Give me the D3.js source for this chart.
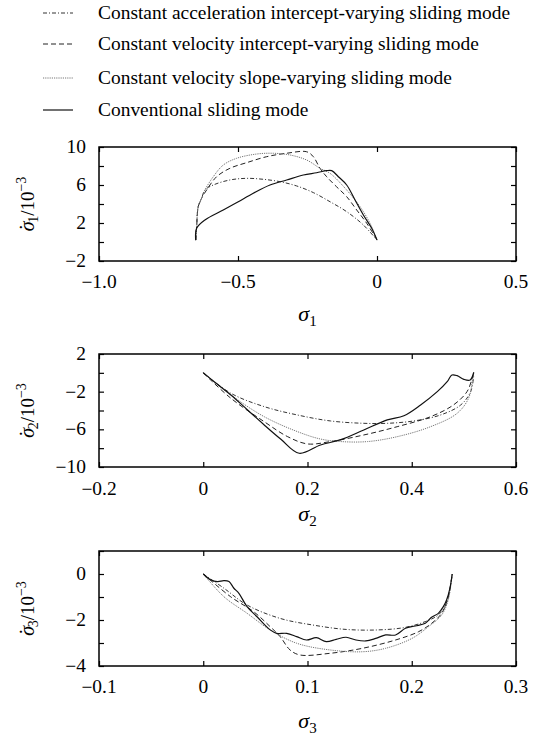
<!DOCTYPE html>
<html><head><meta charset="utf-8">
<script src="https://cdn.jsdelivr.net/npm/d3@7"></script>
<style>
body{margin:0;background:#fff}
svg{display:block}
text{font-family:"Liberation Serif","Times New Roman",serif;fill:#000}
</style>
</head><body>
<svg id="c" width="536" height="735"></svg>
<script>
// ---------- legend ----------
const legendLabels = [
  "Constant acceleration intercept-varying sliding mode",
  "Constant velocity intercept-varying sliding mode",
  "Constant velocity slope-varying sliding mode",
  "Conventional sliding mode"
];
const seriesKeys = ["accel", "velIntercept", "velSlope", "conventional"];

// ---------- panel 1 : sigma1 vs dsigma1 (x1e-3) ----------
const p1XTicks = [-1, -0.5, 0, 0.5];
const p1XLabels = ["\u22121.0", "\u22120.5", "0", "0.5"];
const p1YTicks = [-2, 0, 2, 4, 6, 8, 10];
const p1YLabels = [[10, "10"], [6, "6"], [2, "2"], [-2, "\u22122"]];
const p1Accel = [[-0.652,0.2],[-0.649,1.44],[-0.643,3.72],[-0.631,4.6],[-0.619,5.47],[-0.589,6.0],[-0.529,6.53],[-0.469,6.7],[-0.409,6.6],[-0.349,6.35],[-0.289,5.9],[-0.229,5.2],[-0.169,4.24],[-0.109,3.19],[-0.049,1.79],[0,0.2]];
const p1VelIntercept = [[-0.652,0.2],[-0.649,1.44],[-0.643,3.72],[-0.631,4.6],[-0.613,5.47],[-0.577,6.87],[-0.529,7.76],[-0.469,8.35],[-0.397,8.98],[-0.325,9.34],[-0.253,9.5],[-0.229,8.98],[-0.205,7.76],[-0.181,6.87],[-0.145,5.8],[-0.109,4.77],[-0.073,3.37],[-0.037,1.97],[0,0.2]];
const p1VelSlope = [[-0.652,0.2],[-0.649,1.44],[-0.643,3.72],[-0.631,4.6],[-0.619,5.47],[-0.589,6.87],[-0.553,8.1],[-0.505,8.81],[-0.433,9.26],[-0.373,9.34],[-0.313,9.16],[-0.253,8.63],[-0.205,7.76],[-0.169,7.23],[-0.109,5.47],[-0.061,3.72],[-0.025,1.97],[0,0.2]];
const p1Conventional = [[-0.652,0.2],[-0.649,1.44],[-0.619,2.32],[-0.553,3.37],[-0.499,4.24],[-0.445,5.13],[-0.385,6.0],[-0.325,6.53],[-0.265,7.05],[-0.217,7.29],[-0.181,7.51],[-0.163,7.51],[-0.139,6.87],[-0.109,6.0],[-0.079,4.42],[-0.049,2.84],[-0.019,1.44],[0,0.2]];

// ---------- panel 2 ----------
const p2XTicks = [-0.2, 0, 0.2, 0.4, 0.6];
const p2XLabels = ["\u22120.2", "0", "0.2", "0.4", "0.6"];
const p2YTicks = [-10, -8, -6, -4, -2, 0, 2];
const p2YLabels = [[2, "2"], [-2, "\u22122"], [-6, "\u22126"], [-10, "\u221210"]];
const p2Accel = [[0,0],[0.053,-2.17],[0.117,-3.59],[0.181,-4.48],[0.244,-5.11],[0.308,-5.36],[0.353,-5.36],[0.404,-5.11],[0.455,-4.48],[0.494,-3.41],[0.513,-2.0],[0.519,-0.23]];
const p2VelIntercept = [[0,0],[0.053,-2.7],[0.117,-5.19],[0.162,-6.78],[0.2,-7.55],[0.244,-7.3],[0.308,-6.6],[0.372,-5.72],[0.436,-4.66],[0.48,-3.41],[0.506,-2.0],[0.516,-0.58],[0.519,0]];
const p2VelSlope = [[0,0],[0.053,-2.35],[0.117,-4.66],[0.181,-6.25],[0.225,-7.03],[0.264,-7.3],[0.315,-7.3],[0.372,-6.78],[0.436,-5.72],[0.487,-4.3],[0.509,-2.7],[0.517,-0.58],[0.519,0]];
const p2Conventional = [[0,0],[0.021,-0.94],[0.053,-2.35],[0.085,-3.94],[0.117,-5.54],[0.149,-7.06],[0.184,-8.54],[0.225,-7.66],[0.264,-7.1],[0.308,-6.07],[0.353,-5.0],[0.385,-4.55],[0.417,-3.41],[0.449,-2.0],[0.468,-0.94],[0.477,-0.23],[0.487,-0.3],[0.5,-0.69],[0.512,-0.76],[0.519,0.06]];

// ---------- panel 3 ----------
const p3XTicks = [-0.1, 0, 0.1, 0.2, 0.3];
const p3XLabels = ["\u22120.1", "0", "0.1", "0.2", "0.3"];
const p3YTicks = [-4, -3, -2, -1, 0, 1];
const p3YLabels = [[0, "0"], [-2, "\u22122"], [-4, "\u22124"]];
const p3Accel = [[0,0],[0.0199,-0.62],[0.0421,-1.35],[0.0737,-1.93],[0.1053,-2.22],[0.137,-2.41],[0.1686,-2.43],[0.1939,-2.32],[0.2129,-2.07],[0.2255,-1.78],[0.2334,-1.27],[0.2388,0]];
const p3VelIntercept = [[0,0],[0.0263,-0.99],[0.0484,-1.64],[0.0642,-2.29],[0.0737,-2.72],[0.0832,-3.3],[0.0927,-3.52],[0.1212,-3.45],[0.1528,-3.23],[0.1844,-2.87],[0.2065,-2.51],[0.2192,-2.14],[0.2287,-1.71],[0.235,-0.99],[0.2388,0]];
const p3VelSlope = [[0,0],[0.0199,-0.99],[0.0421,-1.71],[0.0642,-2.43],[0.0896,-3.01],[0.1212,-3.3],[0.1528,-3.38],[0.175,-3.23],[0.2002,-2.8],[0.216,-2.29],[0.2287,-1.78],[0.235,-1.13],[0.2388,0]];
const p3Conventional = [[0,0],[0.0073,-0.26],[0.0137,-0.33],[0.0199,-0.29],[0.0247,-0.33],[0.0294,-0.62],[0.0342,-0.84],[0.042,-1.42],[0.0516,-1.86],[0.0642,-2.43],[0.0706,-2.58],[0.08,-2.58],[0.0896,-2.72],[0.099,-2.87],[0.1085,-2.77],[0.118,-2.94],[0.1275,-2.84],[0.137,-2.75],[0.1465,-2.87],[0.156,-2.91],[0.1655,-2.8],[0.175,-2.65],[0.1845,-2.65],[0.194,-2.36],[0.2034,-2.26],[0.213,-2.14],[0.219,-1.88],[0.2255,-1.71],[0.2303,-1.42],[0.2334,-1.13],[0.2366,-0.62],[0.2388,0]];

// ---------- styles ----------
const styles = {
  accel:        {stroke: "#333", dash: "4,2,1,2", width: 1},
  velIntercept: {stroke: "#222", dash: "5,3",     width: 1},
  velSlope:     {stroke: "#777", dash: "1.2,1",   width: 1},
  conventional: {stroke: "#111", dash: null,      width: 1.2}
};
const SX = 1.08; // horizontal text stretch seen in reference

const svg = d3.select("#c");
svg.append("rect").attr("width", 536).attr("height", 735).attr("fill", "#fff");

function stretchedText(parent, x, y, str, opts) {
  const g = parent.append("g").attr("transform", `translate(${x},${y})`);
  const t = g.append("text").attr("transform", `scale(${SX},1)`)
    .attr("font-size", opts.size || 18)
    .attr("text-anchor", opts.anchor || "start")
    .text(str);
  if (opts.dy) t.attr("dy", opts.dy);
  return t;
}

// legend
const legendY = [13, 44, 78, 110];
legendLabels.forEach((lab, i) => {
  const st = styles[seriesKeys[i]];
  svg.append("line").attr("x1", 43).attr("x2", 73)
    .attr("y1", legendY[i]).attr("y2", legendY[i])
    .attr("stroke", st.stroke).attr("stroke-width", st.width)
    .attr("stroke-dasharray", st.dash);
  stretchedText(svg, 98, legendY[i] + 6, lab, {size: 18});
});

const L = 99, R = 516;
const panels = [
  {top: 147, bottom: 261, xd: [-1, 0.5], yd: [-2, 10], xt: p1XTicks, xl: p1XLabels, yt: p1YTicks, yl: p1YLabels,
   data: [p1Accel, p1VelIntercept, p1VelSlope, p1Conventional], sub: "1", lblBase: 288, titleBase: 321},
  {top: 354, bottom: 467, xd: [-0.2, 0.6], yd: [-10, 2], xt: p2XTicks, xl: p2XLabels, yt: p2YTicks, yl: p2YLabels,
   data: [p2Accel, p2VelIntercept, p2VelSlope, p2Conventional], sub: "2", lblBase: 495, titleBase: 521},
  {top: 551, bottom: 666, xd: [-0.1, 0.3], yd: [-4, 1], xt: p3XTicks, xl: p3XLabels, yt: p3YTicks, yl: p3YLabels,
   data: [p3Accel, p3VelIntercept, p3VelSlope, p3Conventional], sub: "3", lblBase: 693, titleBase: 728}
];

panels.forEach(p => {
  const x = d3.scaleLinear().domain(p.xd).range([L, R]);
  const y = d3.scaleLinear().domain(p.yd).range([p.bottom, p.top]);
  const g = svg.append("g");

  // curves
  const line = d3.line().x(d => x(d[0])).y(d => y(d[1])).curve(d3.curveCatmullRom.alpha(0.5));
  p.data.forEach((arr, i) => {
    const st = styles[seriesKeys[i]];
    g.append("path").attr("d", line(arr)).attr("fill", "none")
      .attr("stroke", st.stroke).attr("stroke-width", st.width)
      .attr("stroke-dasharray", st.dash).attr("stroke-linejoin", "round");
  });

  // ticks (inward on all sides)
  const tk = 5;
  const axes = [
    [d3.axisBottom(x).tickValues(p.xt), `translate(0,${p.bottom})`],
    [d3.axisTop(x).tickValues(p.xt), `translate(0,${p.top})`],
    [d3.axisLeft(y).tickValues(p.yt), `translate(${L},0)`],
    [d3.axisRight(y).tickValues(p.yt), `translate(${R},0)`]
  ];
  axes.forEach(([ax, tr]) => {
    const a = g.append("g").attr("transform", tr)
      .call(ax.tickSize(-tk).tickFormat(""));
    a.select(".domain").remove();
    a.selectAll("line").attr("stroke", "#000").attr("stroke-width", 1.2);
  });

  // frame
  g.append("rect").attr("x", L).attr("y", p.top).attr("width", R - L).attr("height", p.bottom - p.top)
    .attr("fill", "none").attr("stroke", "#000").attr("stroke-width", 1.5);

  // x tick labels
  p.xt.forEach((v, i) => stretchedText(g, x(v), p.lblBase, p.xl[i], {size: 18, anchor: "middle"}));
  // y tick labels
  p.yl.forEach(([v, s]) => stretchedText(g, 86, y(v), s, {size: 18, anchor: "end", dy: "0.33em"}));

  // x title
  const xt = g.append("text").attr("x", (L + R) / 2).attr("y", p.titleBase).attr("text-anchor", "middle");
  xt.append("tspan").attr("font-style", "italic").attr("font-size", 22).text("\u03c3");
  xt.append("tspan").attr("font-size", 15).attr("dy", 5).text(p.sub);

  // y title (rotated)
  const cy = (p.top + p.bottom) / 2;
  const yt = g.append("text").attr("transform", `translate(34,${cy}) rotate(-90)`).attr("text-anchor", "middle");
  yt.append("tspan").attr("font-style", "italic").attr("font-size", 20).text("\u03c3");
  yt.append("tspan").attr("font-size", 20).attr("dx", -9).attr("dy", 0).text("\u02d9");
  yt.append("tspan").attr("font-size", 14).attr("dx", 1).attr("dy", 4).text(p.sub);
  yt.append("tspan").attr("font-size", 19).attr("dy", -4).text("/10");
  yt.append("tspan").attr("font-size", 14).attr("dy", -8).text("\u22123");
});
</script>
</body></html>
